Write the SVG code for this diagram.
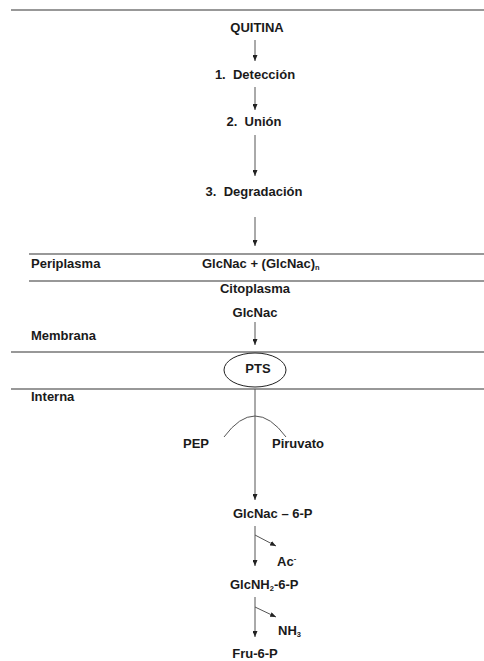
<svg xmlns="http://www.w3.org/2000/svg" width="484" height="661" viewBox="0 0 484 661">
<style>
text{font-family:"Liberation Sans",Arial,sans-serif;font-weight:bold;font-size:13px;fill:#1a1a1a;white-space:pre}
.c{text-anchor:middle}
.sep{stroke:#333;stroke-width:1.2}
.ln{stroke:#555;stroke-width:1;fill:none}
.sub{font-size:7.5px}
</style>
<defs>
<marker id="ah" viewBox="0 0 10 10" refX="10" refY="5" markerWidth="6" markerHeight="5" markerUnits="userSpaceOnUse" orient="auto" preserveAspectRatio="none">
<path d="M0,0 L10,5 L0,10 z" fill="#222"/>
</marker>
</defs>
<rect width="484" height="661" fill="#fff"/>
<g id="separators">
<line class="sep" x1="11" y1="10" x2="484" y2="10" stroke-width="1.5"/>
<line class="sep" x1="29" y1="254" x2="484" y2="254"/>
<line class="sep" x1="29" y1="281" x2="484" y2="281"/>
<line class="sep" x1="11" y1="352" x2="484" y2="352"/>
<line class="sep" x1="11" y1="389" x2="484" y2="389"/>
</g>
<g id="connectors">
<line class="ln" x1="255" y1="40" x2="255" y2="61" marker-end="url(#ah)"/>
<line class="ln" x1="255" y1="87" x2="255" y2="110" marker-end="url(#ah)"/>
<line class="ln" x1="255" y1="135" x2="255" y2="176" marker-end="url(#ah)"/>
<line class="ln" x1="255" y1="217" x2="255" y2="246" marker-end="url(#ah)"/>
<line class="ln" x1="255" y1="322" x2="255" y2="345" marker-end="url(#ah)"/>
<line class="ln" x1="255" y1="389" x2="255" y2="500" marker-end="url(#ah)"/>
<path class="ln" d="M224,437 Q255,395 286,437"/>
<line class="ln" x1="255" y1="526" x2="255" y2="566" marker-end="url(#ah)"/>
<line class="ln" x1="255" y1="535" x2="276" y2="546" marker-end="url(#ah)"/>
<line class="ln" x1="255" y1="597" x2="255" y2="637" marker-end="url(#ah)"/>
<line class="ln" x1="255" y1="607" x2="276" y2="617" marker-end="url(#ah)"/>
</g>
<g id="quitina"><text class="c" x="257" y="32">QUITINA</text></g>
<g id="deteccion"><text class="c" x="255" y="79">1.  Detección</text></g>
<g id="union"><text class="c" x="254" y="126">2.  Unión</text></g>
<g id="degradacion"><text class="c" x="254" y="196">3.  Degradación</text></g>
<g id="periplasma"><text x="31" y="268">Periplasma</text></g>
<g id="glcnac-n"><text x="202" y="268">GlcNac + (GlcNac)<tspan class="sub" dy="2">n</tspan></text></g>
<g id="citoplasma"><text class="c" x="255" y="293">Citoplasma</text></g>
<g id="glcnac"><text class="c" x="255" y="317">GlcNac</text></g>
<g id="membrana"><text x="31" y="340">Membrana</text></g>
<g id="pts">
<ellipse cx="255" cy="370" rx="31" ry="17" fill="none" stroke="#222" stroke-width="1"/>
<text class="c" x="258" y="373">PTS</text>
</g>
<g id="interna"><text x="31" y="401">Interna</text></g>
<g id="pep"><text x="183" y="448">PEP</text></g>
<g id="piruvato"><text x="272" y="448">Piruvato</text></g>
<g id="glcnac6p"><text x="233" y="518">GlcNac – 6-P</text></g>
<g id="ac"><text x="277" y="566">Ac<tspan class="sub" dy="-5">-</tspan></text></g>
<g id="glcnh2"><text x="230" y="589">GlcNH<tspan class="sub" dy="2">2</tspan><tspan dy="-2">-6-P</tspan></text></g>
<g id="nh3"><text x="278" y="635">NH<tspan class="sub" dy="2">3</tspan></text></g>
<g id="fru6p"><text class="c" x="255" y="658">Fru-6-P</text></g>
</svg>
